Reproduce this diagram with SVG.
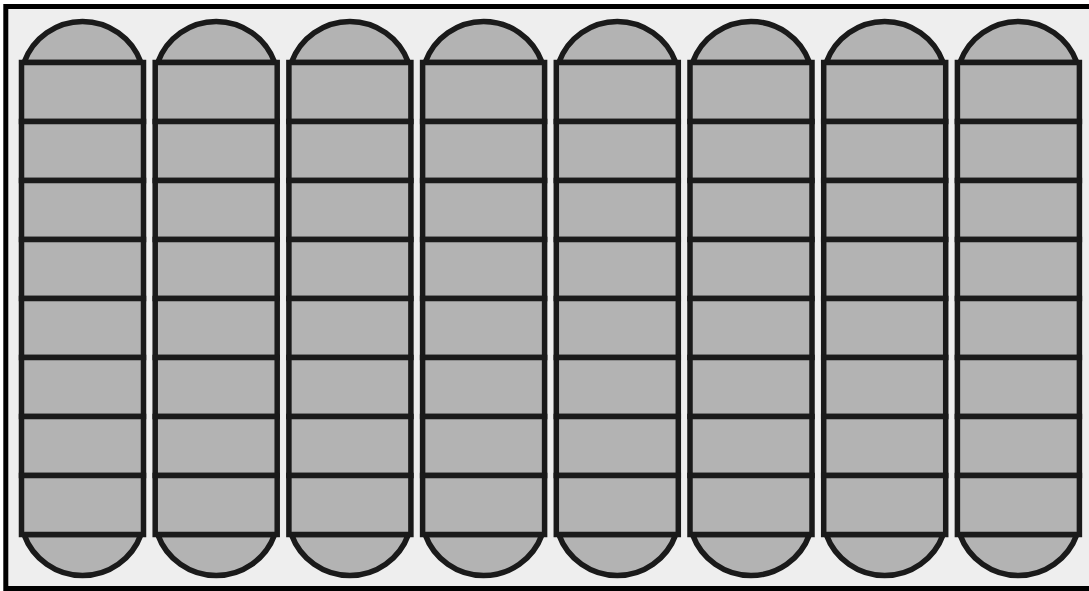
<svg xmlns="http://www.w3.org/2000/svg" xmlns:xlink="http://www.w3.org/1999/xlink" width="1089" height="591" viewBox="0 0 1089 591">
<style>
.bg{fill:#eeeeee;stroke:#000000;stroke-width:5}
.c{fill:#b3b3b3;stroke:#1a1a1a;stroke-width:5.5}
</style>
<defs>
<g id="column">
<path class="c" d="M2.5,62.5 A62.2,62.2 0 0 1 119.5,62.5 Z"/>
<path class="c" d="M2.5,534.5 A62.2,62.2 0 0 0 119.5,534.5 Z"/>
<rect class="c" x="0" y="62.5" width="122" height="59"/>
<rect class="c" x="0" y="121.5" width="122" height="59"/>
<rect class="c" x="0" y="180.5" width="122" height="59"/>
<rect class="c" x="0" y="239.5" width="122" height="59"/>
<rect class="c" x="0" y="298.5" width="122" height="59"/>
<rect class="c" x="0" y="357.5" width="122" height="59"/>
<rect class="c" x="0" y="416.5" width="122" height="59"/>
<rect class="c" x="0" y="475.5" width="122" height="59"/>
</g>
</defs>
<rect class="bg" x="5.8" y="6.5" width="1100" height="582"/>
<g id="column-1" transform="translate(21.5,0)"><use xlink:href="#column" href="#column"/></g>
<g id="column-2" transform="translate(155.2,0)"><use xlink:href="#column" href="#column"/></g>
<g id="column-3" transform="translate(288.9,0)"><use xlink:href="#column" href="#column"/></g>
<g id="column-4" transform="translate(422.6,0)"><use xlink:href="#column" href="#column"/></g>
<g id="column-5" transform="translate(556.3,0)"><use xlink:href="#column" href="#column"/></g>
<g id="column-6" transform="translate(690,0)"><use xlink:href="#column" href="#column"/></g>
<g id="column-7" transform="translate(823.7,0)"><use xlink:href="#column" href="#column"/></g>
<g id="column-8" transform="translate(957.4,0)"><use xlink:href="#column" href="#column"/></g>
<g id="connectors"></g>
</svg>
